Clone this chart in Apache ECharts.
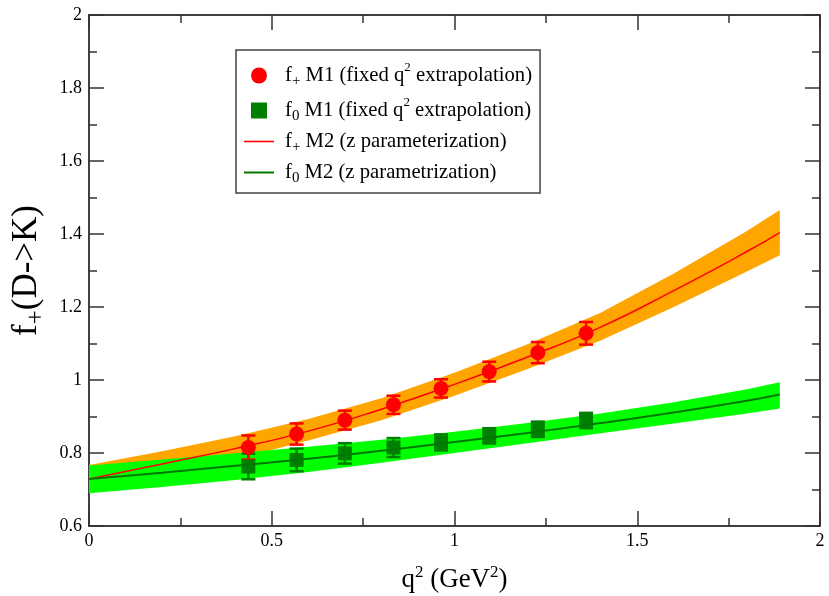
<!DOCTYPE html>
<html>
<head>
<meta charset="utf-8">
<script src="https://cdn.jsdelivr.net/npm/echarts@6/dist/echarts.min.js"></script>
<style>
html, body { margin: 0; padding: 0; background: #fff; }
#main { width: 829px; height: 596px; }
</style>
</head>
<body>
<div id="main"></div>
<script>
// axis ticks
var xTicks = [0, 0.5, 1, 1.5, 2];
var yTicks = [0.6, 0.8, 1, 1.2, 1.4, 1.6, 1.8, 2];

// M1 points (fixed q^2 extrapolation)
var q2Points = [0.436, 0.568, 0.700, 0.833, 0.963, 1.095, 1.228, 1.360];
var fPlusM1 = [0.815, 0.852, 0.890, 0.932, 0.977, 1.023, 1.075, 1.128];
var fPlusM1Err = [0.033, 0.029, 0.026, 0.025, 0.025, 0.027, 0.029, 0.031];
var fZeroM1 = [0.763, 0.781, 0.799, 0.815, 0.829, 0.847, 0.865, 0.889];
var fZeroM1Err = [0.035, 0.031, 0.028, 0.026, 0.022, 0.021, 0.021, 0.021];

// M2 curves (z parameterization) with error bands
var q2Curve = [0, 0.2, 0.4, 0.6, 0.8, 1.0, 1.2, 1.4, 1.6, 1.8, 1.89];
var fPlusM2 = [0.729, 0.770, 0.812, 0.860, 0.920, 0.988, 1.063, 1.145, 1.245, 1.352, 1.404];
var fPlusM2Hi = [0.767, 0.805, 0.846, 0.893, 0.950, 1.020, 1.098, 1.184, 1.292, 1.408, 1.466];
var fPlusM2Lo = [0.692, 0.735, 0.783, 0.834, 0.890, 0.957, 1.030, 1.108, 1.200, 1.297, 1.342];
var fZeroM2 = [0.729, 0.746, 0.765, 0.784, 0.806, 0.830, 0.855, 0.882, 0.911, 0.943, 0.960];
var fZeroM2Hi = [0.766, 0.782, 0.799, 0.817, 0.836, 0.858, 0.882, 0.908, 0.939, 0.975, 0.994];
var fZeroM2Lo = [0.690, 0.707, 0.726, 0.748, 0.773, 0.800, 0.827, 0.854, 0.881, 0.908, 0.922];

var legendText = {
	fPlusM1: '{g|f}{sub|+}{t| M1 (fixed q}{sup|2}{t| extrapolation)}',
	fZeroM1: '{g|f}{sub|0}{t| M1 (fixed q}{sup|2}{t| extrapolation)}',
	fPlusM2: '{g|f}{sub|+}{t| M2 (z parameterization)}',
	fZeroM2: '{g|f}{sub|0}{t| M2 (z parametrization)}'
};

var serif = "'Liberation Serif', 'DejaVu Serif', serif";

function pairs(xs, ys) {
	var out = [];
	for (var i = 0; i < xs.length; i++) {
		out.push([xs[i], ys[i]]);
	}
	return out;
}

function triples(xs, lo, hi) {
	var out = [];
	for (var i = 0; i < xs.length; i++) {
		out.push([xs[i], lo[i], hi[i]]);
	}
	return out;
}

function errTriples(xs, ys, es) {
	var out = [];
	for (var i = 0; i < xs.length; i++) {
		out.push([xs[i], ys[i] - es[i], ys[i] + es[i]]);
	}
	return out;
}

//误差棒
function errorBar(color) {
	return function(params, api) {
		var x = api.value(0);
		var lo = api.coord([x, api.value(1)]);
		var hi = api.coord([x, api.value(2)]);
		var w = 7;
		var st = { stroke: color, lineWidth: 2.5 };
		return {
			type : 'group',
			children : [
				{ type : 'line', shape : { x1 : lo[0], y1 : lo[1], x2 : hi[0], y2 : hi[1] }, style : st },
				{ type : 'line', shape : { x1 : hi[0] - w, y1 : hi[1], x2 : hi[0] + w, y2 : hi[1] }, style : st },
				{ type : 'line', shape : { x1 : lo[0] - w, y1 : lo[1], x2 : lo[0] + w, y2 : lo[1] }, style : st }
			]
		};
	};
}

//误差带，整条带在第一个数据项画一次
function band(color) {
	return function(params, api) {
		if (params.dataIndexInside !== 0) {
			return null;
		}
		var n = params.dataInsideLength;
		var top = [], bottom = [];
		for (var j = 0; j < n; j++) {
			var x = api.value(0, j);
			top.push(api.coord([x, api.value(2, j)]));
			bottom.unshift(api.coord([x, api.value(1, j)]));
		}
		return {
			type : 'polygon',
			shape : { points : top.concat(bottom) },
			style : { fill : color, stroke : null }
		};
	};
}

function makeAxis(ticks, pos, showLabel, extra) {
	var ax = {
		type : 'value',
		position : pos,
		min : ticks[0],
		max : ticks[ticks.length - 1],
		interval : ticks[1] - ticks[0],
		axisLine : { show : true, onZero : false, lineStyle : { color : '#000', width : 1.5 } },
		axisTick : { show : true, inside : true, length : 15, lineStyle : { color : '#333', width : 1.5 } },
		minorTick : { show : true, splitNumber : 2, length : 8, lineStyle : { color : '#333', width : 1.5 } },
		splitLine : { show : false },
		minorSplitLine : { show : false },
		axisLabel : {
			show : showLabel, color : '#000', fontFamily : serif, fontSize : 18,
			formatter : function(v) { return String(+v.toFixed(1)); }
		}
	};
	for (var k in extra) {
		ax[k] = extra[k];
	}
	return ax;
}

var chart = echarts.init(document.getElementById('main'));

var xMain = makeAxis(xTicks, 'bottom', true, {
	name : '{a|q}{p|2}{a| (GeV}{p|2}{a|)}',
	nameLocation : 'middle',
	nameGap : 38,
	nameTextStyle : {
		rich : {
			a : { fontFamily : serif, fontSize : 27, color : '#000' },
			p : { fontFamily : serif, fontSize : 17, color : '#000', padding : [0, 0, 14, 0] }
		}
	}
});
xMain.axisLabel.margin = 6;

var yMain = makeAxis(yTicks, 'left', true, {
	name : '{a|f}{s|+}{a|(D->K)}',
	nameLocation : 'middle',
	nameGap : 36,
	nameRotate : 90,
	nameTextStyle : {
		rich : {
			a : { fontFamily : serif, fontSize : 35, color : '#000' },
			s : { fontFamily : serif, fontSize : 25, color : '#000', padding : [18, 0, 0, 0] }
		}
	}
});
yMain.axisLabel.margin = 7;

var series = [];
series.push({
	type : 'custom',
	data : triples(q2Curve, fPlusM2Lo, fPlusM2Hi),
	renderItem : band('#ffa500'),
	silent : true
});
series.push({
	name : 'fPlusM2',
	type : 'line',
	data : pairs(q2Curve, fPlusM2),
	smooth : true,
	symbol : 'none',
	lineStyle : { color : '#ff0000', width : 1.5 },
	itemStyle : { color : '#ff0000' }
});
series.push({
	type : 'custom',
	data : triples(q2Curve, fZeroM2Lo, fZeroM2Hi),
	renderItem : band('#00ff00'),
	silent : true
});
series.push({
	name : 'fZeroM2',
	type : 'line',
	data : pairs(q2Curve, fZeroM2),
	smooth : true,
	symbol : 'none',
	lineStyle : { color : '#007800', width : 2 },
	itemStyle : { color : '#007800' }
});
series.push({
	type : 'custom',
	data : errTriples(q2Points, fZeroM1, fZeroM1Err),
	renderItem : errorBar('#008000'),
	silent : true
});
series.push({
	name : 'fZeroM1',
	type : 'scatter',
	data : pairs(q2Points, fZeroM1),
	symbol : 'rect',
	symbolSize : 14,
	itemStyle : { color : '#008000', opacity : 1 }
});
series.push({
	type : 'custom',
	data : errTriples(q2Points, fPlusM1, fPlusM1Err),
	renderItem : errorBar('#ff0000'),
	silent : true
});
series.push({
	name : 'fPlusM1',
	type : 'scatter',
	data : pairs(q2Points, fPlusM1),
	symbol : 'circle',
	symbolSize : 15,
	itemStyle : { color : '#ff0000', opacity : 1 }
});

var option = {
	animation : false,
	grid : {
		left : 89,
		right : 9,
		top : 15,
		bottom : 70,
		outerBoundsMode : 'none'
	},
	legend : {
		orient : 'vertical',
		left : 236,
		top : 50,
		padding : [11, 8, 7, 8],
		itemGap : 7,
		itemWidth : 30,
		itemHeight : 16,
		borderColor : '#444',
		borderWidth : 1.5,
		borderRadius : 0,
		selectedMode : false,
		data : [
			{ name : 'fPlusM1', icon : 'circle' },
			{ name : 'fZeroM1', icon : 'path://M0,0H12V12H0Z' },
			{ name : 'fPlusM2', icon : 'path://M0,0H30V1.6H0Z' },
			{ name : 'fZeroM2', icon : 'path://M0,0H30V2H0Z' }
		],
		formatter : function(name) {
			return legendText[name];
		},
		textStyle : {
			color : '#000',
			rich : {
				g : { fontFamily : serif, fontSize : 20.7, color : '#000', padding : [0, 0, 0, 6] },
				t : { fontFamily : serif, fontSize : 20.7, color : '#000' },
				sub : { fontFamily : serif, fontSize : 15, color : '#000', padding : [12, 0, 0, 0] },
				sup : { fontFamily : serif, fontSize : 13, color : '#000', padding : [0, 0, 16, 0] }
			}
		}
	},
	xAxis : [xMain, makeAxis(xTicks, 'top', false, {})],
	yAxis : [yMain, makeAxis(yTicks, 'right', false, {})],
	series : series
};

chart.setOption(option);
</script>
</body>
</html>
